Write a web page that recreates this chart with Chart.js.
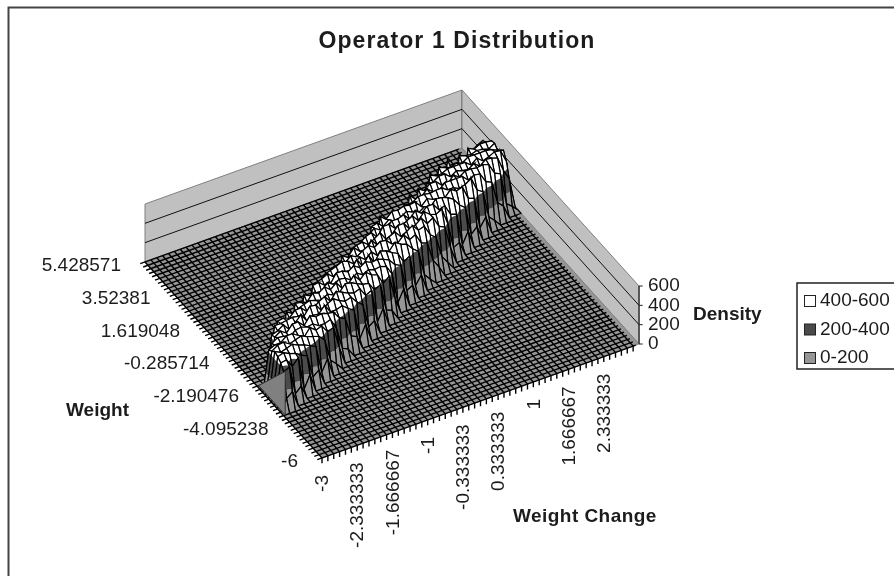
<!DOCTYPE html>
<html>
<head>
<meta charset="utf-8">
<title>Operator 1 Distribution</title>
<script src="https://cdn.jsdelivr.net/npm/chart.js@4/dist/chart.umd.min.js"></script>
<style>
    html, body { margin: 0; padding: 0; background: #fff; overflow: hidden; }
    canvas { display: block; filter: blur(0.45px); }
</style>
</head>
<body>
<canvas id="surface" width="894" height="576"></canvas>
<script>
const chartTitle = "Operator 1 Distribution";
const weightLabels = [-6, -4.095238, -2.190476, -0.285714, 1.619048, 3.52381, 5.428571];
const changeLabels = [-3, -2.333333, -1.666667, -1, -0.333333, 0.333333, 1, 1.666667, 2.333333];
const densityLabels = [0, 200, 400, 600];
const legendLabels = ["400-600", "200-400", "0-200"];
const bandColors = ["#969696", "#4a4a4a", "#ffffff"];
const bandEdges = [0, 200, 400, 650];

const weightMin = -6, weightMax = 5.428571, weightCells = 60;
const changeMin = -3, changeMax = 3, changeCells = 54;

// first row of the ridge in each weight change column (column 1 to 53)
const ridgeStart = [14,14,15,15,16,16,17,17,18,18,19,19,20,21,21,22,22,23,23,24,24,25,25,26,26,27,28,28,29,29,30,30,31,31,32,32,33,33,34,35,35,36,36,37,37,38,38,39,39,40,40,41,41];

// density read along each column, front of the ridge to the back
const ridgeHeights = [
    [120,360,420,450,470,440,420],
    [170,390,430,470,440,480,450,430],
    [90,340,440,460,490,450,470,440,430],
    [150,410,420,480,450,500,460,480,450,470],
    [60,380,450,470,500,430,440,490,470,460],
    [190,350,430,490,460,480,510,420,480,470],
    [110,400,460,420,490,510,470,490,450,480],
    [160,370,440,500,470,450,530,480,510,440],
    [80,420,450,480,530,440,460,510,470,490],
    [200,360,470,440,500,480,540,450,490,480],
    [130,390,440,510,470,530,450,510,460,500],
    [70,410,460,490,540,450,510,490,530,470],
    [180,350,480,450,500,540,470,510,480,520],
    [120,400,450,530,470,510,550,470,530,490],
    [90,370,470,490,550,480,500,540,480,510],
    [170,420,460,520,480,550,500,470,540,500],
    [140,380,480,490,550,470,530,560,490,520],
    [60,410,470,540,490,520,560,480,540,500],
    [190,360,490,510,560,480,530,500,570,510],
    [110,400,480,490,530,570,490,550,500,540],
    [150,430,470,550,490,530,580,500,550,500],
    [80,380,500,520,570,490,550,520,580,520],
    [200,410,480,500,540,580,500,560,520,550],
    [130,370,510,550,480,560,590,510,560,510],
    [100,420,490,530,580,500,550,590,510,560],
    [170,390,500,560,510,590,520,550,580,520],
    [70,430,520,500,580,530,590,510,570,550],
    [190,400,490,570,520,560,500,600,530,570],
    [120,380,530,510,590,530,600,540,510,580],
    [150,420,510,570,520,600,540,580,560,530],
    [90,440,500,550,600,530,580,520,590],
    [180,390,530,590,520,570,600,540,580],
    [130,420,520,540,600,530,580,600,530],
    [60,400,540,590,530,600,550,590,560],
    [200,430,510,600,550,520,600,560,600],
    [110,380,550,550,600,560,530,600,540],
    [160,440,530,600,530,590,600,540,590],
    [80,410,560,520,600,560,590,600,550],
    [170,390,540,590,550,600,550,600,570],
    [120,430,570,530,600,540,600,560,600],
    [150,410,530,600,560,600,540,600,570],
    [70,450,560,560,600,530,600,570,600],
    [190,400,580,530,600,600,550,600,580],
    [100,440,550,600,560,590,600,560,600],
    [160,420,590,540,600,570,600,580],
    [90,450,570,600,560,600,560,600],
    [180,410,560,590,600,550,600,580],
    [130,460,600,550,600,600,570,600],
    [70,430,580,600,550,600,590,570],
    [200,470,590,570,600,580,600,550],
    [140,440,570,600,590,560,600,580],
    [110,420,590,560,600,590],
    [60,310,460,540,430,300]
];

// the flat grey face closing the ridge at the weight change = -3 edge
const sideWeights = [-3.52381, -3.52381, -1.809524];
const sideDensity = [0, 450, 0];

// where the floor corners land on the page
const frontCorner = { x: 322, y: 458 };
const changeVector = { x: 317, y: -114 };
const weightVector = { x: -177, y: -196 };
const densityPixels = 58 / 600;

function project(change, weight, density) {
    const u = (change - changeMin) / (changeMax - changeMin);
    const v = (weight - weightMin) / (weightMax - weightMin);
    return {
        x: frontCorner.x + u * changeVector.x + v * weightVector.x,
        y: frontCorner.y + u * changeVector.y + v * weightVector.y - density * densityPixels
    };
}

function weightAt(row) {
    return weightMin + row * (weightMax - weightMin) / weightCells;
}

function changeAt(col) {
    return changeMin + col * (changeMax - changeMin) / changeCells;
}

function heightAt(row, col) {
    if (col < 1 || col > ridgeStart.length) return 0;
    const values = ridgeHeights[col - 1];
    const i = row - ridgeStart[col - 1];
    return i >= 0 && i < values.length ? values[i] : 0;
}

const paintList = [];

function addLine(points, color, width) {
    paintList.push({
        data: points,
        showLine: true,
        pointRadius: 0,
        borderColor: color,
        borderWidth: width,
        tension: 0
    });
}

function addPolygon(points, fillColor, lineColor, width) {
    paintList.push({
        data: points.concat([points[0]]),
        showLine: width > 0,
        pointRadius: 0,
        borderColor: lineColor,
        borderWidth: width,
        polyFill: fillColor,
        tension: 0
    });
}

function buildWalls() {
    const top = densityLabels[densityLabels.length - 1];
    addPolygon([
        project(changeMin, weightMax, 0), project(changeMin, weightMax, top),
        project(changeMax, weightMax, top), project(changeMax, weightMax, 0)
    ], "#c0c0c0", "#808080", 1);
    addPolygon([
        project(changeMax, weightMax, 0), project(changeMax, weightMax, top),
        project(changeMax, weightMin, top), project(changeMax, weightMin, 0)
    ], "#c0c0c0", "#808080", 1);
    densityLabels.slice(1, -1).forEach(function (d) {
        addLine([project(changeMin, weightMax, d), project(changeMax, weightMax, d), project(changeMax, weightMin, d)], "#111", 1);
    });
}

function buildFloor() {
    addPolygon([
        project(changeMin, weightMin, 0), project(changeMax, weightMin, 0),
        project(changeMax, weightMax, 0), project(changeMin, weightMax, 0)
    ], "#969696", "#808080", 1);
    // mesh rows run a little past the edge so they show as the weight ticks
    for (let r = 0; r <= weightCells; r++) {
        addLine([project(changeMin - 0.09, weightAt(r), 0), project(changeMax - 0.06, weightAt(r), 0)], "#000", 1.4);
    }
    for (let c = 0; c < changeCells; c++) {
        addLine([project(changeAt(c), weightMin, -55), project(changeAt(c), weightMin, 0), project(changeAt(c), weightMax, 0)], "#000", 1.4);
    }
    // density axis
    addLine([project(changeMax, weightMin, 0), project(changeMax, weightMin, 600)], "#222", 1);
    densityLabels.forEach(function (d) {
        addLine([project(changeMax, weightMin, d), project(changeMax + 0.07, weightMin, d - 14)], "#222", 1);
    });
}

// keeps the part of a polygon between two densities
function clipBand(corners, low, high) {
    function clip(list, limit, keepAbove) {
        const out = [];
        list.forEach(function (p, i) {
            const q = list[(i + 1) % list.length];
            const pIn = keepAbove ? p.d >= limit : p.d <= limit;
            const qIn = keepAbove ? q.d >= limit : q.d <= limit;
            if (pIn) out.push(p);
            if (pIn !== qIn) {
                const t = (limit - p.d) / (q.d - p.d);
                out.push({ c: p.c + t * (q.c - p.c), w: p.w + t * (q.w - p.w), d: limit });
            }
        });
        return out;
    }
    return clip(clip(corners, low, true), high, false);
}

function buildRidge() {
    for (let r = weightCells - 1; r >= 0; r--) {
        for (let c = changeCells - 1; c >= 0; c--) {
            const corners = [
                { c: changeAt(c), w: weightAt(r), d: heightAt(r, c) },
                { c: changeAt(c + 1), w: weightAt(r), d: heightAt(r, c + 1) },
                { c: changeAt(c + 1), w: weightAt(r + 1), d: heightAt(r + 1, c + 1) },
                { c: changeAt(c), w: weightAt(r + 1), d: heightAt(r + 1, c) }
            ];
            if (corners.every(function (p) { return p.d === 0; })) continue;
            bandColors.forEach(function (color, b) {
                const piece = clipBand(corners, bandEdges[b], bandEdges[b + 1]);
                if (piece.length > 2) {
                    addPolygon(piece.map(function (p) { return project(p.c, p.w, p.d); }), color, color, 0);
                }
            });
            const outline = corners.map(function (p) { return project(p.c, p.w, p.d); });
            addLine(outline.concat([outline[0]]), "#000", 1.2);
        }
    }
    const side = sideWeights.map(function (w, i) { return project(changeMin + 0.03, w, sideDensity[i]); });
    addPolygon(side, "#808080", "#333", 1);
}

buildWalls();
buildFloor();
buildRidge();

const polygonFill = {
    id: "polygonFill",
    beforeDatasetDraw: function (chart, args) {
        const color = chart.data.datasets[args.index].polyFill;
        if (!color) return;
        const ctx = chart.ctx;
        ctx.save();
        ctx.beginPath();
        args.meta.data.forEach(function (pt, i) {
            if (i === 0) ctx.moveTo(pt.x, pt.y);
            else ctx.lineTo(pt.x, pt.y);
        });
        ctx.closePath();
        ctx.fillStyle = color;
        ctx.fill();
        ctx.restore();
    }
};

const chartText = {
    id: "chartText",
    afterDraw: function (chart) {
        const ctx = chart.ctx;
        const xs = chart.scales.x, ys = chart.scales.y;
        ctx.save();

        // outer frame, only its top and left side are in the picture
        ctx.strokeStyle = "#444";
        ctx.lineWidth = 2;
        ctx.beginPath();
        ctx.moveTo(8.5, 576);
        ctx.lineTo(8.5, 7.5);
        ctx.lineTo(894, 7.5);
        ctx.stroke();

        ctx.fillStyle = "#1c1c1c";
        ctx.textBaseline = "middle";
        ctx.font = "bold 23px 'Liberation Sans', Arial, sans-serif";
        ctx.textAlign = "center";
        ctx.letterSpacing = "1.1px";
        ctx.fillText(chartTitle, 457, 42);
        ctx.letterSpacing = "0px";

        ctx.font = "bold 19px 'Liberation Sans', Arial, sans-serif";
        ctx.textAlign = "left";
        ctx.fillText("Weight", 66, 411);
        ctx.fillText("Density", 693, 315);
        ctx.letterSpacing = "0.45px";
        ctx.fillText("Weight Change", 513, 517);
        ctx.letterSpacing = "0px";

        ctx.font = "19px 'Liberation Sans', Arial, sans-serif";
        ctx.textAlign = "right";
        weightLabels.forEach(function (w) {
            const p = project(changeMin, w, 0);
            ctx.fillText(String(w), xs.getPixelForValue(p.x) - 24, ys.getPixelForValue(p.y) + 4);
        });
        changeLabels.forEach(function (v) {
            const p = project(v, weightMin, 0);
            ctx.save();
            ctx.translate(xs.getPixelForValue(p.x) + 1, ys.getPixelForValue(p.y) + 17);
            ctx.rotate(-Math.PI / 2);
            ctx.textAlign = "right";
            ctx.fillText(String(v), 0, 0);
            ctx.restore();
        });
        ctx.textAlign = "left";
        densityLabels.forEach(function (d) {
            const p = project(changeMax, weightMin, d);
            ctx.fillText(String(d), xs.getPixelForValue(p.x) + 9, ys.getPixelForValue(p.y));
        });

        // legend box runs off the right of the picture
        ctx.strokeStyle = "#222";
        ctx.lineWidth = 1.5;
        ctx.strokeRect(797, 283, 120, 86);
        legendLabels.forEach(function (label, i) {
            const y = 301 + i * 28.5;
            ctx.fillStyle = bandColors[bandColors.length - 1 - i];
            ctx.fillRect(804.5, y - 5.5, 11, 11);
            ctx.strokeStyle = "#222";
            ctx.lineWidth = 1;
            ctx.strokeRect(804.5, y - 5.5, 11, 11);
            ctx.fillStyle = "#1c1c1c";
            ctx.fillText(label, 820, y);
        });
        ctx.restore();
    }
};

new Chart(document.getElementById("surface"), {
    type: "scatter",
    // chart.js paints the last dataset first
    data: { datasets: paintList.slice().reverse() },
    options: {
        responsive: false,
        animation: false,
        events: [],
        layout: { padding: 0 },
        scales: {
            x: { type: "linear", min: 0, max: 894, display: false },
            y: { type: "linear", min: 0, max: 576, reverse: true, display: false }
        },
        plugins: { legend: { display: false }, tooltip: { enabled: false }, title: { display: false } }
    },
    plugins: [polygonFill, chartText]
});
</script>
</body>
</html>
